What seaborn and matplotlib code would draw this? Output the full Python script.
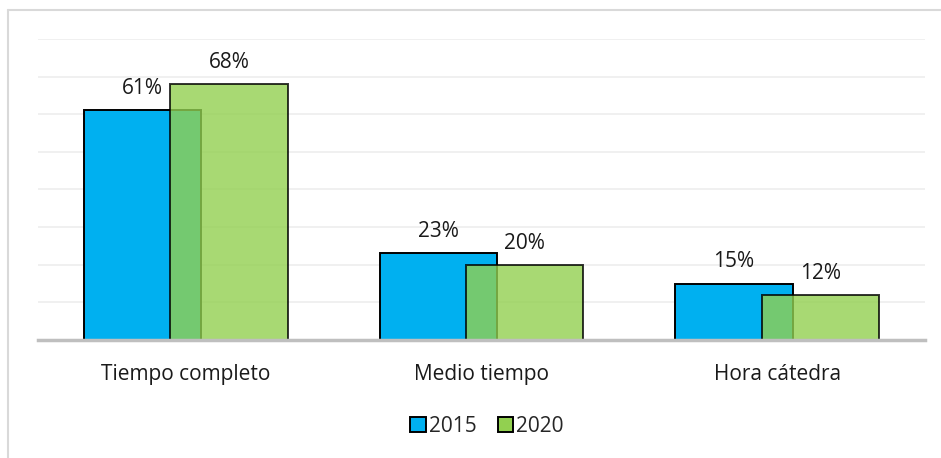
import numpy as np
import pandas as pd
import seaborn as sns
import matplotlib.pyplot as plt
from matplotlib.patches import Patch
from matplotlib.lines import Line2D

# Datos
categorias = ["Tiempo completo", "Medio tiempo", "Hora cátedra"]
anios = ["2015", "2020"]
valores_2015 = [61, 23, 15]
valores_2020 = [68, 20, 12]

colores = {"2015": "#00B0F0", "2020": "#92D050"}

sns.set_theme(style="white")
plt.rcParams["font.family"] = ["Open Sans", "DejaVu Sans"]

fig = plt.figure(figsize=(9.41, 4.58), dpi=100)
ax = fig.add_axes([38 / 941, 1 - 340 / 458, (925 - 38) / 941, (340 - 39) / 458])

ancho = 0.396
desplazamiento = 0.146
tam = 15

df15 = pd.DataFrame({"categoria": categorias, "valor": valores_2015})
df20 = pd.DataFrame({"categoria": categorias, "valor": valores_2020})

sns.barplot(data=df15, x="categoria", y="valor", color=colores["2015"],
            saturation=1, width=ancho, edgecolor="black", linewidth=1.4, ax=ax)
sns.barplot(data=df20, x="categoria", y="valor", color=colores["2020"],
            saturation=1, width=ancho, edgecolor="black", linewidth=1.4,
            alpha=0.8, ax=ax)

# desplazar las barras para que se superpongan
for p in ax.containers[0]:
    p.set_x(p.get_x() - desplazamiento)
for p in ax.containers[1]:
    p.set_x(p.get_x() + desplazamiento)
    p.set_edgecolor("black")

for cont, vals in zip(ax.containers, [valores_2015, valores_2020]):
    ax.bar_label(cont, labels=[f"{v}%" for v in vals], padding=8,
                 fontsize=tam, color="#1a1a1a")

ax.set_xlim(-0.5, 2.5)
ax.set_ylim(0, 80)
ax.set_yticks(np.arange(0, 81, 10))
ax.set_yticklabels([])
ax.tick_params(axis="y", length=0)
ax.tick_params(axis="x", length=0, pad=17, labelsize=tam, labelcolor="#1a1a1a")
ax.set_xlabel("")
ax.set_ylabel("")
ax.grid(axis="y", color="#EEEEEE", linewidth=1.2)
ax.set_axisbelow(True)
for s in ["top", "right", "left"]:
    ax.spines[s].set_visible(False)
ax.spines["bottom"].set_color("#BFBFBF")
ax.spines["bottom"].set_linewidth(2.5)
ax.spines["bottom"].set_zorder(5)

handles = [Patch(facecolor=colores[a], edgecolor="black", linewidth=1.4, label=a)
           for a in anios]
fig.legend(handles=handles, loc="center", bbox_to_anchor=(487 / 941, 1 - 426 / 458),
           ncol=2, frameon=False, fontsize=tam, handlelength=0.75, handleheight=0.75,
           handletextpad=0.15, columnspacing=1.0)

# borde del gráfico
fig.add_artist(Line2D([8 / 941, 1], [1 - 10 / 458, 1 - 10 / 458],
                      color="#D9D9D9", linewidth=1.5))
fig.add_artist(Line2D([8 / 941, 8 / 941], [0, 1 - 10 / 458],
                      color="#D9D9D9", linewidth=1.5))

fig.savefig("out.png", dpi=100)
